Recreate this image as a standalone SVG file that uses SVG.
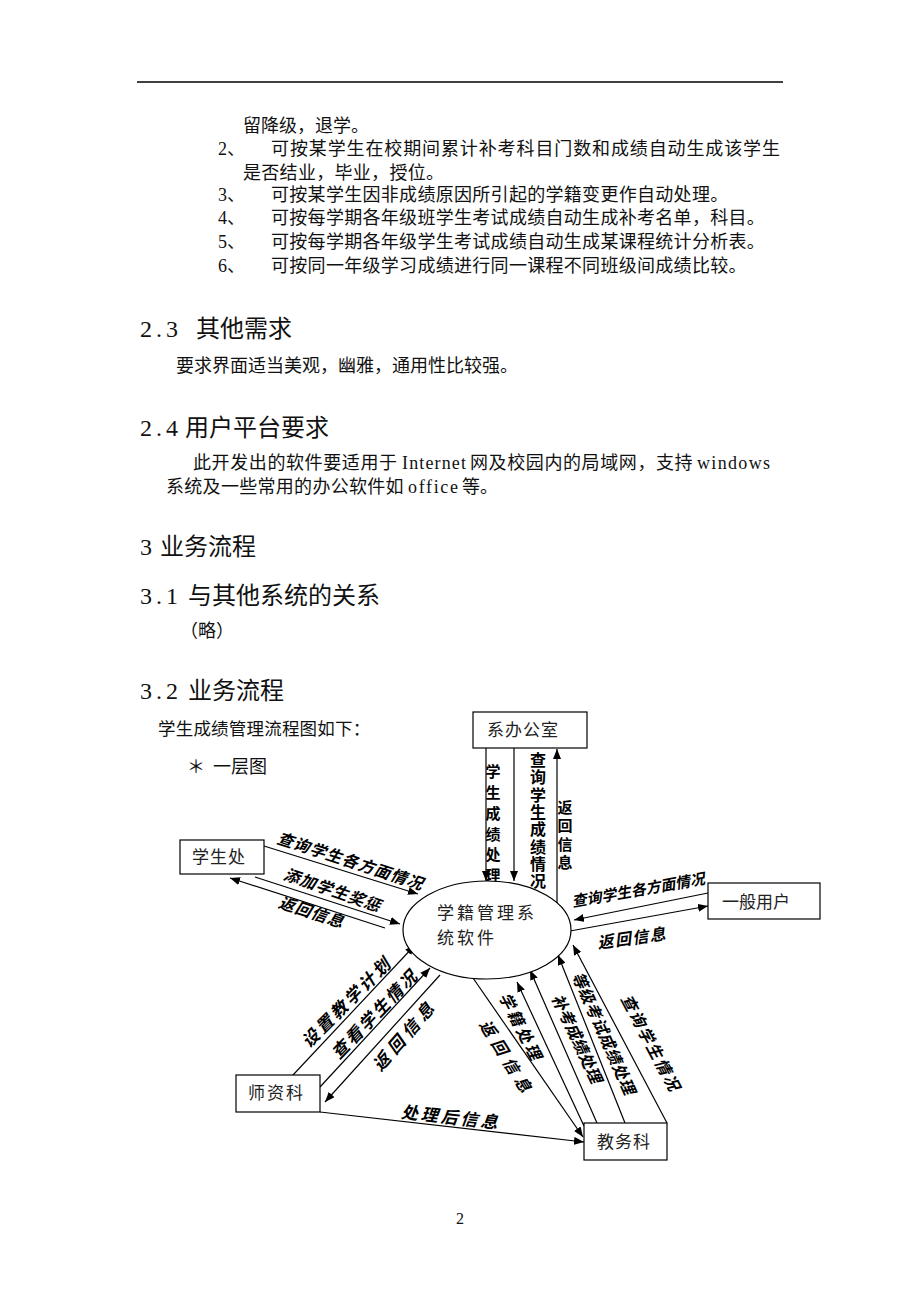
<svg xmlns="http://www.w3.org/2000/svg" width="920" height="1302" viewBox="0 0 920 1302">
<style>
.b{font-family:"Liberation Serif","Noto Sans CJK SC",serif;font-size:18px;fill:#111}
.h{font-family:"Liberation Serif","Noto Sans CJK SC",serif;font-size:24px;fill:#111}
.n{font-family:"Liberation Serif","Noto Sans CJK SC",serif;font-size:17px;fill:#222;letter-spacing:1px}
.box{fill:#fff;stroke:#000;stroke-width:1.2}
.ln{stroke:#000;stroke-width:1.2;fill:none;marker-end:url(#ah)}
.lb{font-family:"Noto Sans CJK SC",sans-serif;font-weight:bold;font-size:16px;fill:#000;text-anchor:middle;dominant-baseline:central}
.it{font-style:italic}
.v{font-family:"Noto Sans CJK SC",sans-serif;font-weight:bold;font-size:15px;fill:#000;writing-mode:vertical-rl;text-orientation:upright}
</style>
<defs>
<marker id="ah" viewBox="0 0 10 8" refX="10" refY="4" markerWidth="10" markerHeight="8" markerUnits="userSpaceOnUse" orient="auto"><path d="M0,0 L10,4 L0,8 z" fill="#000"/></marker>
</defs>
<rect width="920" height="1302" fill="#fff"/>
<line x1="137" y1="82" x2="783" y2="82" stroke="#000" stroke-width="1.5"/>

<g id="body-text">
<text class="b" x="243" y="132">留降级，退学。</text>
<text class="b" x="218" y="155">2、</text>
<text class="b" x="271" y="155" textLength="509" lengthAdjust="spacing">可按某学生在校期间累计补考科目门数和成绩自动生成该学生</text>
<text class="b" x="243" y="179" style="letter-spacing:0.3px">是否结业，毕业，授位。</text>
<text class="b" x="218" y="201">3、</text>
<text class="b" x="271" y="201" style="letter-spacing:0.3px">可按某学生因非成绩原因所引起的学籍变更作自动处理。</text>
<text class="b" x="218" y="224">4、</text>
<text class="b" x="271" y="224" style="letter-spacing:0.3px">可按每学期各年级班学生考试成绩自动生成补考名单，科目。</text>
<text class="b" x="218" y="248">5、</text>
<text class="b" x="271" y="248" style="letter-spacing:0.3px">可按每学期各年级学生考试成绩自动生成某课程统计分析表。</text>
<text class="b" x="218" y="272">6、</text>
<text class="b" x="271" y="272" style="letter-spacing:0.3px">可按同一年级学习成绩进行同一课程不同班级间成绩比较。</text>

<text class="h" x="140" y="337"><tspan textLength="38">2.3</tspan><tspan x="196">其他需求</tspan></text>
<text class="b" x="176" y="372">要求界面适当美观，幽雅，通用性比较强。</text>

<text class="h" x="140" y="436"><tspan textLength="38">2.4</tspan><tspan x="185">用户平台要求</tspan></text>
<text class="b" y="469"><tspan x="193" style="letter-spacing:0.6px">此开发出的软件要适用于</tspan><tspan x="402" textLength="64">Internet</tspan><tspan x="470" style="letter-spacing:0.6px">网及校园内的局域网，支持</tspan><tspan x="697" textLength="73">windows</tspan></text>
<text class="b" y="493"><tspan x="166" style="letter-spacing:0.3px">系统及一些常用的办公软件如</tspan><tspan x="408" textLength="50">office</tspan><tspan x="462">等。</tspan></text>

<text class="h" x="140" y="555"><tspan>3</tspan><tspan x="160">业务流程</tspan></text>
<text class="h" x="140" y="604"><tspan textLength="38">3.1</tspan><tspan x="188">与其他系统的关系</tspan></text>
<text class="b" x="180" y="637">（略）</text>
<text class="h" x="140" y="699"><tspan textLength="38">3.2</tspan><tspan x="188">业务流程</tspan></text>
<text class="b" x="158" y="735" style="font-size:17.5px;letter-spacing:0.2px">学生成绩管理流程图如下：</text>
<text class="b" y="773"><tspan x="187">＊</tspan><tspan x="213">一层图</tspan></text>
<text x="460" y="1224" style="font-family:'Liberation Serif',serif;font-size:16px;fill:#111" text-anchor="middle">2</text>
</g>

<g id="connectors">
<line class="ln" x1="486" y1="748" x2="486" y2="881"/>
<line class="ln" x1="514" y1="748" x2="514" y2="881"/>
<line class="ln" x1="557" y1="903" x2="557" y2="749"/>
<line class="ln" x1="264" y1="846" x2="418" y2="894"/>
<line class="ln" x1="255" y1="877" x2="400" y2="924"/>
<line class="ln" x1="385" y1="928" x2="230" y2="878"/>
<line class="ln" x1="708" y1="893" x2="574" y2="920"/>
<line class="ln" x1="570" y1="931" x2="708" y2="906"/>
<line class="ln" x1="293" y1="1075" x2="415" y2="945"/>
<line class="ln" x1="320" y1="1087" x2="430" y2="968"/>
<line class="ln" x1="440" y1="975" x2="325" y2="1102"/>
<line class="ln" x1="320" y1="1112" x2="584" y2="1142"/>
<line class="ln" x1="473" y1="978" x2="583" y2="1137"/>
<line class="ln" x1="584" y1="1126" x2="517" y2="982"/>
<line class="ln" x1="597" y1="1123" x2="530" y2="970"/>
<line class="ln" x1="625" y1="1123" x2="558" y2="955"/>
<line class="ln" x1="667" y1="1123" x2="573" y2="945"/>
</g>

<g id="labels">
<text class="v" x="493" y="764" style="letter-spacing:5.8px">学生成绩处理</text>
<text class="v" x="538" y="752" style="font-size:16px;letter-spacing:1.3px">查询学生成绩情况</text>
<text class="v" x="565" y="800" style="letter-spacing:3.3px">返回信息</text>

<text class="lb it" transform="translate(351,860) rotate(18)" style="letter-spacing:1px">查询学生各方面情况</text>
<text class="lb it" transform="translate(333,889) rotate(19)" style="letter-spacing:1px">添加学生奖惩</text>
<text class="lb it" transform="translate(312,911) rotate(18)" style="letter-spacing:1px">返回信息</text>

<text class="lb it" transform="translate(638,889) rotate(-10)" style="font-size:15px">查询学生各方面情况</text>
<text class="lb it" transform="translate(632,937) rotate(-8)" style="letter-spacing:1.5px">返回信息</text>

<text class="lb it" transform="translate(346,1001) rotate(-45)" style="font-size:17px;letter-spacing:3px">设置教学计划</text>
<text class="lb it" transform="translate(374,1013) rotate(-46)" style="font-size:17px;letter-spacing:2.4px">查看学生情况</text>
<text class="lb it" transform="translate(404,1034) rotate(-49)" style="font-size:17px;letter-spacing:5px">返回信息</text>
<text class="lb it" transform="translate(451,1116) rotate(6.5)" style="font-size:17px;letter-spacing:3px">处理后信息</text>

<text class="lb it" transform="translate(508,1058) rotate(58)" style="letter-spacing:6px">返回信息</text>
<text class="lb it" transform="translate(522,1027) rotate(63)" style="letter-spacing:3px">学籍处理</text>
<text class="lb it" transform="translate(578,1038) rotate(65)">补考成绩处理</text>
<text class="lb it" transform="translate(605,1033) rotate(66)" style="letter-spacing:0.6px">等级考试成绩处理</text>
<text class="lb it" transform="translate(652,1043) rotate(62)" style="letter-spacing:2px">查询学生情况</text>
</g>

<g id="node-xibangongshi">
<rect class="box" x="473" y="712" width="114" height="36"/>
<text class="n" x="487" y="736">系办公室</text>
</g>
<g id="node-system">
<ellipse cx="487" cy="930" rx="84" ry="49" fill="#fff" stroke="#000" stroke-width="1.2"/>
<text class="n" x="437" y="919" style="letter-spacing:3px">学籍管理系</text>
<text class="n" x="437" y="944" style="letter-spacing:3px">统软件</text>
</g>
<g id="node-xueshengchu">
<rect class="box" x="180" y="840" width="84" height="34"/>
<text class="n" x="192" y="863">学生处</text>
</g>
<g id="node-yibanyonghu">
<rect class="box" x="708" y="883" width="112" height="36"/>
<text class="n" x="722" y="908" style="letter-spacing:0px">一般用户</text>
</g>
<g id="node-shizike">
<rect class="box" x="236" y="1075" width="84" height="37"/>
<text class="n" x="248" y="1099" style="letter-spacing:2px">师资科</text>
</g>
<g id="node-jiaowuke">
<rect class="box" x="584" y="1123" width="83" height="37"/>
<text class="n" x="597" y="1148">教务科</text>
</g>
</svg>
